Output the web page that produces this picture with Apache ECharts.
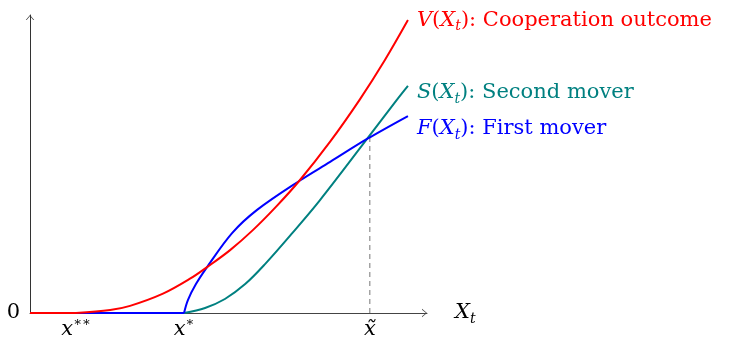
<!DOCTYPE html>
<html>
<head>
<meta charset="utf-8">
<script src="https://cdn.jsdelivr.net/npm/echarts@6/dist/echarts.min.js"></script>
<style>
  html, body { margin: 0; padding: 0; background: #fff; }
  #main { width: 736px; height: 341px; }
</style>
</head>
<body>
<div id="main"></div>
<script>
// special points on the X_t axis
const xStarStar = 1.16
const xStar = 3.88
const xTilde = 8.56
const crossY = 5.9 // F and S meet at x tilde

// V(X_t): cooperation outcome (rises from x**)
const vX = [1.16, 2.02, 2.52, 3.35, 4.03, 4.46, 5.04, 5.62, 6.2, 6.78, 7.56, 8.31, 8.94, 9.52]
const vY = [0, 0.1, 0.24, 0.65, 1.15, 1.54, 2.11, 2.79, 3.57, 4.43, 5.75, 7.17, 8.49, 9.83]

// F(X_t): first mover (kink at x*)
const fX = [3.88, 3.98, 4.18, 4.46, 5.09, 5.72, 6.78, 7.56, 8.49, 9.52]
const fY = [0, 0.44, 0.97, 1.54, 2.68, 3.46, 4.43, 5.07, 5.84, 6.61]

// S(X_t): second mover (smooth from x*)
const sX = [3.88, 4.41, 4.91, 5.42, 5.92, 6.6, 7.3, 8.49, 9.24, 9.52]
const sY = [0, 0.17, 0.47, 0.97, 1.64, 2.67, 3.78, 5.84, 7.15, 7.62]

const FONT = 'DejaVu Serif'
const FS = 21
const arrowPath = 'path://M0,6 L5,0 L10,6 L9,6 L5,1.2 L1,6 Z'

function zip(xs, ys) {
  return xs.map((x, i) => [x, ys[i]])
}

function richFor(color) {
  return {
    i: { fontFamily: FONT, fontStyle: 'italic', fontSize: FS, color: color, lineHeight: 27 },
    n: { fontFamily: FONT, fontSize: FS, color: color, lineHeight: 27 },
    sub: { fontFamily: FONT, fontStyle: 'italic', fontSize: 14, color: color, lineHeight: 14, verticalAlign: 'bottom' },
    sup: { fontFamily: FONT, fontSize: 13, color: color, lineHeight: 13, verticalAlign: 'top' },
  }
}

function flat(x1, color) {
  return {
    type: 'line',
    data: [[0, 0], [x1, 0]],
    symbol: 'none',
    lineStyle: { color: color, width: 2 },
    silent: true,
  }
}

function curve(xs, ys, color, label, dy) {
  return {
    type: 'line',
    data: zip(xs, ys),
    symbol: 'none',
    smooth: 0.35,
    lineStyle: { color: color, width: 2 },
    endLabel: {
      show: true,
      formatter: label,
      distance: 9,
      offset: [0, dy],
      rich: richFor(color),
    },
  }
}

const chart = echarts.init(document.getElementById('main'))
const option = {
  animation: false,
  grid: { left: 30, right: 309, top: 15, bottom: 28, outerBoundsMode: 'none' },
  xAxis: {
    type: 'value',
    min: 0,
    max: 10,
    axisLine: {
      lineStyle: { color: '#444', width: 1 },
      symbol: ['none', arrowPath],
      symbolSize: [9, 5],
      symbolOffset: [0, -2.5],
    },
    axisTick: { show: false },
    splitLine: { show: false },
    axisLabel: {
      customValues: [xStarStar, xStar, xTilde],
      margin: 3,
      formatter: function (v) {
        if (v === xStarStar) return '{i|x}{sup|∗∗}'
        if (v === xStar) return '{i|x}{sup|∗}'
        return '{i|x̃}'
      },
      rich: richFor('#000'),
    },
    name: '{i|X}{sub|t}',
    nameGap: 28,
    nameTextStyle: { rich: richFor('#000') },
  },
  yAxis: {
    type: 'value',
    min: 0,
    max: 10,
    axisLine: {
      lineStyle: { color: '#333', width: 1 },
      symbol: ['none', arrowPath],
      symbolSize: [9, 5],
      symbolOffset: [0, -2.5],
    },
    axisTick: { show: false },
    splitLine: { show: false },
    axisLabel: {
      customValues: [0],
      margin: 10,
      formatter: '{n|{value}}',
      rich: richFor('#000'),
    },
  },
  series: [
    flat(xStar, '#008080'),
    curve(sX, sY, '#008080', '{i|S}{n|(}{i|X}{sub|t}{n|): Second mover}', 7),
    flat(xStar, '#0000ff'),
    curve(fX, fY, '#0000ff', '{i|F}{n|(}{i|X}{sub|t}{n|): First mover}', 13),
    flat(xStarStar, '#ff0000'),
    curve(vX, vY, '#ff0000', '{i|V}{n|(}{i|X}{sub|t}{n|): Cooperation outcome}', 0),
    {
      type: 'line',
      data: [[xTilde, 0], [xTilde, crossY]],
      symbol: 'none',
      lineStyle: { color: '#777', width: 1, type: [5, 4] },
      z: 1,
    },
  ],
}
chart.setOption(option)
</script>
</body>
</html>
